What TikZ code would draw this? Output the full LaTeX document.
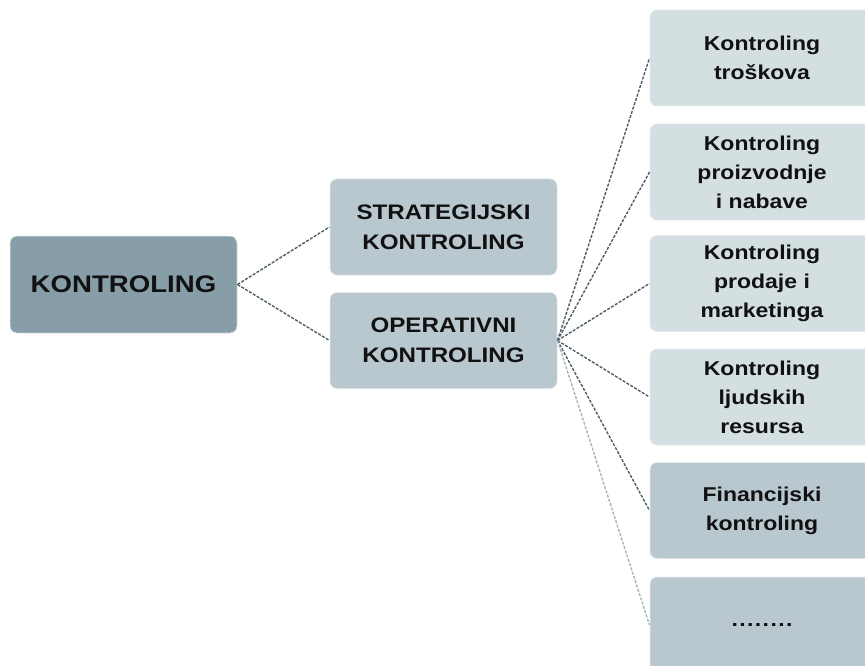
\documentclass[tikz,border=0pt]{standalone}
\usepackage{fontspec}
\setmainfont{Liberation Sans}[FakeStretch=1.15]
\definecolor{cmain}{HTML}{879EA9}
\definecolor{cmid}{HTML}{B9C8CF}
\definecolor{clight}{HTML}{D3DFE1}
\definecolor{cline}{HTML}{4E5E66}
\definecolor{clinelt}{HTML}{A8B6BB}
\definecolor{cborder}{HTML}{E4EAEC}
\definecolor{ctext}{HTML}{111111}
\tikzset{
  boxbase/.style={draw=cborder, densely dotted, line width=1pt, rounded corners=7pt,
    inner sep=0pt, align=center, text=ctext, font=\bfseries\fontsize{21}{30}\selectfont},
  mainbox/.style={boxbase, fill=cmain, minimum width=227pt, minimum height=97pt,
    font=\bfseries\fontsize{24}{30}\selectfont},
  midbox/.style={boxbase, fill=cmid, minimum width=227pt, minimum height=96pt},
  rightbox/.style={boxbase, fill=clight, minimum width=224pt, minimum height=96pt,
    font=\bfseries\fontsize{20}{29}\selectfont},
  rightdark/.style={rightbox, fill=cmid},
  conn/.style={draw=cline, line width=1.4pt, dash pattern=on 3pt off 1.5pt},
  connlt/.style={draw=clinelt, line width=1.4pt, dash pattern=on 3pt off 1.5pt}
}
\begin{document}
\begin{tikzpicture}[x=1pt,y=-1pt]
\useasboundingbox (0,0) rectangle (865,666);
\clip (0,0) rectangle (865,666);
\node[mainbox] (K) at (123.5,284.5) {KONTROLING};
\node[midbox] (S) at (443.5,227) {STRATEGIJSKI\\KONTROLING};
\node[midbox] (O) at (443.5,340.5) {OPERATIVNI\\KONTROLING};
\node[rightbox] (R1) at (762,58) {Kontroling\\troškova};
\node[rightbox] (R2) at (762,172) {Kontroling\\proizvodnje\\i nabave};
\node[rightbox] (R3) at (762,283.5) {Kontroling\\prodaje i\\marketinga};
\node[rightbox] (R4) at (762,397) {Kontroling\\ljudskih\\resursa};
\node[rightdark] (R5) at (762,510.5) {Financijski\\kontroling};
\node[rightdark] (R6) at (762,625) {.\kern1.4pt.\kern1.4pt.\kern1.4pt.\kern1.4pt.\kern1.4pt.\kern1.4pt.\kern1.4pt.};
\draw[conn] (K.east) -- (S.west);
\draw[conn] (K.east) -- (O.west);
\draw[conn] (O.east) -- (R1.west);
\draw[conn] (O.east) -- (R2.west);
\draw[conn] (O.east) -- (R3.west);
\draw[conn] (O.east) -- (R4.west);
\draw[conn] (O.east) -- (R5.west);
\draw[connlt] (O.east) -- (R6.west);
\end{tikzpicture}
\end{document}
